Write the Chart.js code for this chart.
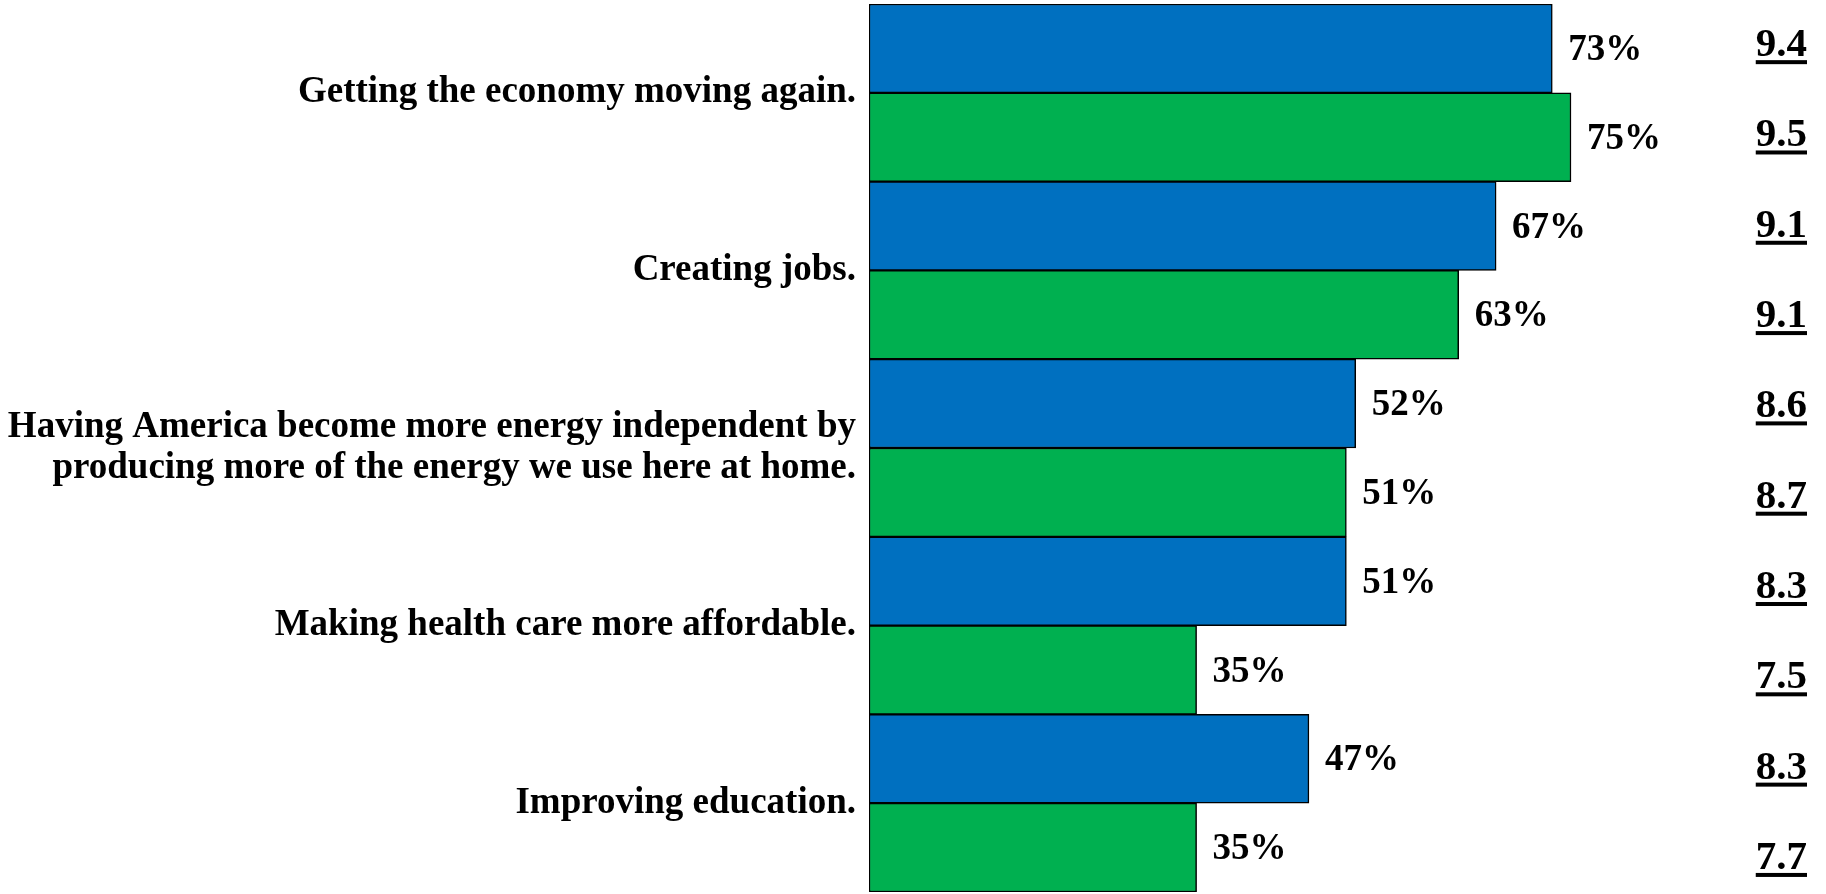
<!DOCTYPE html>
<html>
<head>
<meta charset="utf-8">
<script src="https://cdn.jsdelivr.net/npm/chart.js@4"></script>
<style>
  html, body { margin: 0; padding: 0; background: #fff; }
  #wrap { width: 1826px; height: 894px; }
</style>
</head>
<body>
<div id="wrap"><canvas id="c" width="1826" height="894"></canvas></div>
<script>
const categories = [
  "Getting the economy moving again.",
  "Creating jobs.",
  ["Having America become more energy independent by", "producing more of the energy we use here at home."],
  "Making health care more affordable.",
  "Improving education."
];
const bluePercent = [73, 67, 52, 51, 47];
const greenPercent = [75, 63, 51, 35, 35];
const blueScore = ["9.4", "9.1", "8.6", "8.3", "8.3"];
const greenScore = ["9.5", "9.1", "8.7", "7.5", "7.7"];

const FONT = "'Liberation Serif', 'Times New Roman', serif";

const labelPlugin = {
  id: 'barLabels',
  afterDatasetsDraw(chart) {
    const ctx = chart.ctx;
    const top = chart.chartArea.top;
    const scores = [blueScore, greenScore];
    ctx.save();
    ctx.fillStyle = '#000';
    chart.data.datasets.forEach((ds, di) => {
      const meta = chart.getDatasetMeta(di);
      meta.data.forEach((el, i) => {
        ctx.font = "bold 37px " + FONT;
        ctx.textAlign = 'left';
        ctx.textBaseline = 'middle';
        ctx.fillText(ds.data[i] + '%', el.x + 16, el.y + 2);
        ctx.font = "bold 41px " + FONT;
        ctx.textAlign = 'right';
        ctx.textBaseline = 'alphabetic';
        const txt = scores[di][i];
        const xr = 1807;
        const base = top + (el.y - top) * 1.017 + 7;
        ctx.fillText(txt, xr, base);
        const w = ctx.measureText(txt).width;
        ctx.fillRect(xr - w, base + 4, w, 4);
      });
    });
    ctx.restore();
  }
};

new Chart(document.getElementById('c'), {
  type: 'bar',
  data: {
    labels: categories,
    datasets: [
      { data: bluePercent, backgroundColor: '#0070C0', borderColor: '#000', borderWidth: 1.5, borderSkipped: false },
      { data: greenPercent, backgroundColor: '#00B050', borderColor: '#000', borderWidth: 1.5, borderSkipped: false }
    ]
  },
  options: {
    indexAxis: 'y',
    responsive: false,
    animation: false,
    datasets: { bar: { categoryPercentage: 1.0, barPercentage: 1.0 } },
    layout: { padding: { top: 4, bottom: 2, left: 0, right: 21 } },
    plugins: { legend: { display: false }, tooltip: { enabled: false } },
    scales: {
      x: { display: false, min: 0, max: 100 },
      y: {
        grid: { display: false, drawTicks: false },
        border: { display: false },
        ticks: {
          color: '#000',
          padding: 13,
          font: { family: FONT, size: 37, weight: 'bold', lineHeight: 1.1 }
        },
        afterFit(scale) {
          scale.width = 869;
          scale.paddingTop = 0;
          scale.paddingBottom = 0;
        }
      }
    }
  },
  plugins: [labelPlugin]
});
</script>
</body>
</html>
